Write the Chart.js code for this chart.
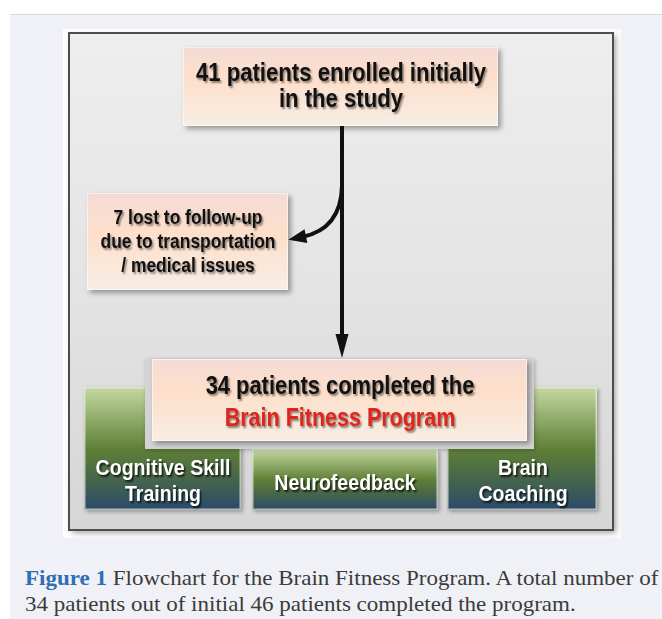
<!DOCTYPE html>
<html><head><meta charset="utf-8">
<script src="https://cdn.jsdelivr.net/npm/chart.js@4"></script>
<style>
html,body{margin:0;padding:0;}
body{width:662px;height:619px;position:relative;background:#fff;overflow:hidden;}
#bg{position:absolute;left:10px;top:14px;right:0;bottom:0;background:#f0f1f6;border-top:1px solid #d7d8de;}
#wrap{position:absolute;left:63px;top:29px;width:558px;height:509px;}
#cap{position:absolute;left:25px;top:565px;font-family:"Liberation Serif","DejaVu Serif",serif;font-size:21.5px;line-height:26px;color:#3b3b3b;white-space:nowrap;transform:scaleX(1.07);transform-origin:0 0;}
#cap b{color:#2f6eb5;}
</style></head>
<body>
<div id="bg"></div>
<div id="wrap"><canvas id="c"></canvas></div>
<div id="cap"><b>Figure 1</b> Flowchart for the Brain Fitness Program. A total number of<br>34 patients out of initial 46 patients completed the program.</div>
<script>
// ---- data (flowchart content) ----
const enrolledCount = 41;
const lostCount = 7;
const completedCount = 34;
const enrolledLines = [enrolledCount + " patients enrolled initially", "in the study"];
const lostLines = [lostCount + " lost to follow-up", "due to transportation", "/ medical issues"];
const completedLines = [completedCount + " patients completed the"];
const programLines = ["Brain Fitness Program"];
const componentLabels = [["Cognitive Skill", "Training"], ["Neurofeedback"], ["Brain", "Coaching"]];

// ---- layout (page coordinates, mapped through the chart's linear scales) ----
const layout = {
  panel: [69, 33, 613, 530],
  top: [183, 47, 498, 126],
  lost: [87, 193, 288, 290],
  done: [152, 359, 527, 441],
  comps: [[84, 387, 241, 510], [252, 449, 438, 510], [447, 387, 597, 510]],
  topText: {x: 341, y: [81, 107]},
  lostText: {x: 188, y: [224, 248, 272]},
  doneText: {x: 340, y: [394, 426]},
  compText: [{x: 163, y: [475, 501]}, {x: 345, y: [490]}, {x: 523, y: [475, 501]}],
  mainArrow: {x: 342, y0: 126, y1: 358},
  sideArrow: {x0: 342, y0: 186, cx: 341, cy: 229, x1: 302, y1: 237}
};

const FONT = '"Liberation Sans", Arial, sans-serif';

const flowPlugin = {
  id: 'flow',
  beforeDatasetsDraw(chart) {
    const ctx = chart.ctx;
    const xs = chart.scales.x, ys = chart.scales.y;
    const X = v => xs.getPixelForValue(v);
    const Y = v => ys.getPixelForValue(v);
    const rect = (b) => [X(b[0]), Y(b[1]), X(b[2]) - X(b[0]), Y(b[3]) - Y(b[1])];

    // white frame
    ctx.save();
    ctx.fillStyle = '#fdfdfd';
    ctx.fillRect(0, 0, chart.width, chart.height);
    ctx.restore();

    // panel
    {
      const [x, y, w, h] = rect(layout.panel);
      ctx.save();
      ctx.shadowColor = 'rgba(0,0,0,0.35)';
      ctx.shadowBlur = 6; ctx.shadowOffsetX = 3; ctx.shadowOffsetY = 3;
      const g = ctx.createLinearGradient(0, y, 0, y + h);
      g.addColorStop(0, '#eeeeee');
      g.addColorStop(0.5, '#e4e4e4');
      g.addColorStop(1, '#d6d6d6');
      ctx.fillStyle = g;
      ctx.fillRect(x, y, w, h);
      ctx.restore();
      ctx.save();
      ctx.strokeStyle = '#4d4d4d';
      ctx.lineWidth = 2;
      ctx.strokeRect(x, y, w, h);
      ctx.restore();
    }

    const peach = (b) => {
      const [x, y, w, h] = rect(b);
      ctx.save();
      ctx.shadowColor = 'rgba(0,0,0,0.35)';
      ctx.shadowBlur = 5; ctx.shadowOffsetX = 3; ctx.shadowOffsetY = 3;
      const g = ctx.createLinearGradient(0, y, 0, y + h);
      g.addColorStop(0, '#f5dbd6');
      g.addColorStop(0.4, '#fddfca');
      g.addColorStop(1, '#f8ede4');
      ctx.fillStyle = g;
      ctx.fillRect(x, y, w, h);
      ctx.restore();
      ctx.save();
      ctx.strokeStyle = 'rgba(255,255,255,0.55)';
      ctx.lineWidth = 1;
      ctx.strokeRect(x + 0.5, y + 0.5, w - 1, h - 1);
      ctx.restore();
    };

    const green = (b) => {
      const [x, y, w, h] = rect(b);
      ctx.save();
      ctx.shadowColor = 'rgba(0,0,0,0.3)';
      ctx.shadowBlur = 4; ctx.shadowOffsetX = 2; ctx.shadowOffsetY = 2;
      const g = ctx.createLinearGradient(0, y, 0, y + h);
      g.addColorStop(0, '#c5d9a3');
      g.addColorStop(0.5, '#5f8036');
      g.addColorStop(0.75, '#46654a');
      g.addColorStop(1, '#2b4a6c');
      ctx.fillStyle = g;
      ctx.fillRect(x, y, w, h);
      ctx.restore();
      ctx.save();
      ctx.strokeStyle = 'rgba(235,240,225,0.7)';
      ctx.lineWidth = 1.5;
      ctx.strokeRect(x + 0.75, y + 0.75, w - 1.5, h - 1.5);
      ctx.restore();
    };

    const text = (str, cx, by, size, color, condense, shadow) => {
      ctx.save();
      ctx.font = 'bold ' + size + 'px ' + FONT;
      ctx.textAlign = 'center';
      ctx.textBaseline = 'alphabetic';
      ctx.fillStyle = color;
      ctx.shadowColor = shadow;
      ctx.shadowBlur = 2; ctx.shadowOffsetX = 1.5; ctx.shadowOffsetY = 1.5;
      ctx.translate(X(cx), Y(by));
      ctx.scale(condense, 1);
      ctx.fillText(str, 0, 0);
      ctx.restore();
    };

    // component boxes
    layout.comps.forEach(b => green(b));
    // grey backing behind the completed box
    {
      const d = layout.done;
      const [x, y, w, h] = rect([d[0] - 7, d[1], d[2] + 7, d[3] + 8]);
      ctx.save();
      ctx.fillStyle = '#d3d3d3';
      ctx.shadowColor = 'rgba(0,0,0,0.25)';
      ctx.shadowBlur = 4; ctx.shadowOffsetX = 1; ctx.shadowOffsetY = 1;
      ctx.fillRect(x, y, w, h);
      ctx.restore();
    }
    peach(layout.done);
    peach(layout.top);
    peach(layout.lost);

    // arrows
    ctx.save();
    ctx.strokeStyle = '#111';
    ctx.fillStyle = '#111';
    ctx.lineWidth = 4;
    ctx.lineCap = 'butt';
    const m = layout.mainArrow;
    ctx.beginPath();
    ctx.moveTo(X(m.x), Y(m.y0));
    ctx.lineTo(X(m.x), Y(m.y1 - 20));
    ctx.stroke();
    ctx.beginPath();
    ctx.moveTo(X(m.x - 6.5), Y(m.y1 - 24));
    ctx.lineTo(X(m.x + 6.5), Y(m.y1 - 24));
    ctx.lineTo(X(m.x), Y(m.y1));
    ctx.closePath();
    ctx.fill();

    const s = layout.sideArrow;
    ctx.beginPath();
    ctx.moveTo(X(s.x0), Y(s.y0));
    ctx.quadraticCurveTo(X(s.cx), Y(s.cy), X(s.x1), Y(s.y1));
    ctx.stroke();
    let dx = s.x1 - s.cx, dy = s.y1 - s.cy;
    const len = Math.hypot(dx, dy); dx /= len; dy /= len;
    const tipX = s.x1 + dx * 14, tipY = s.y1 + dy * 14;
    const bx = s.x1 - dx * 4, by = s.y1 - dy * 4;
    ctx.beginPath();
    ctx.moveTo(X(bx - dy * 7), Y(by + dx * 7));
    ctx.lineTo(X(bx + dy * 7), Y(by - dx * 7));
    ctx.lineTo(X(tipX), Y(tipY));
    ctx.closePath();
    ctx.fill();
    ctx.restore();

    // texts
    const dark = 'rgba(0,0,0,0.45)';
    enrolledLines.forEach((t, i) => text(t, layout.topText.x, layout.topText.y[i], 25, '#111', 0.885, dark));
    lostLines.forEach((t, i) => text(t, layout.lostText.x, layout.lostText.y[i], 20, '#111', 0.87, dark));
    completedLines.forEach((t, i) => text(t, layout.doneText.x, layout.doneText.y[i], 25, '#111', 0.875, dark));
    programLines.forEach((t, i) => text(t, layout.doneText.x, layout.doneText.y[completedLines.length + i], 25, '#e3241b', 0.86, dark));
    componentLabels.forEach((lines, k) => {
      lines.forEach((t, i) => text(t, layout.compText[k].x, layout.compText[k].y[i], 22.5, '#ffffff', 0.87, 'rgba(0,0,0,0.75)'));
    });
  }
};

new Chart(document.getElementById('c'), {
  type: 'scatter',
  data: {datasets: [{label: 'flow', data: [], pointRadius: 0}]},
  options: {
    responsive: true,
    maintainAspectRatio: false,
    animation: false,
    events: [],
    layout: {padding: 0},
    plugins: {legend: {display: false}, tooltip: {enabled: false}},
    scales: {
      x: {type: 'linear', min: 63, max: 621, display: false},
      y: {type: 'linear', min: 29, max: 538, reverse: true, display: false}
    }
  },
  plugins: [flowPlugin]
});
</script>
</body></html>
